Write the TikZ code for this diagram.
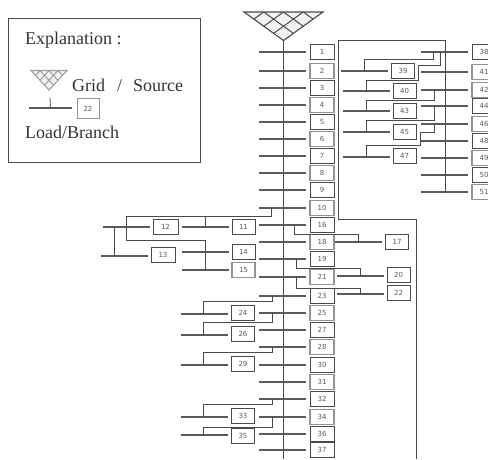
\documentclass[tikz,border=0pt]{standalone}
\usepackage{fontspec}
\setmainfont{Liberation Serif}
\newfontfamily\lblfont{DejaVu Sans}
\definecolor{ln}{HTML}{4A4A4A}
\definecolor{lb}{HTML}{5A5A5A}
\tikzset{
  wire/.style={draw=ln,line width=0.9pt,line join=miter},
  bus/.style={draw=none,fill=lb,inner sep=0pt,minimum height=1.96pt,minimum width=47pt},
  tag/.style={draw=ln,line width=0.9pt,fill=white,inner sep=0pt,minimum width=#1,minimum height=15pt,font=\lblfont\fontsize{7}{8}\selectfont,text=lb},
  tag/.default=23pt,
  tagg/.style={tag=#1,draw=gray!85,line width=1.1pt},
  tagg/.default=23pt,
  legendtext/.style={font=\fontsize{18}{20}\selectfont,text=black!80,inner sep=0pt,anchor=base west},
}
\newcommand\tapto[5]{\draw[wire] (#2,0 |- #1) -- (#2,#3) -- (#4,#3) -- (#4,0 |- #5);}
\newcommand\gridsym[5]{% x-left, x-right, y-top, y-apex, colour
  \begin{scope}
    \path[fill=black!5] (#1,#3) -- (#2,#3) -- ({(#1+#2)/2},#4) -- cycle;
    \clip (#1,#3) -- (#2,#3) -- ({(#1+#2)/2},#4) -- cycle;
    \pgfmathsetmacro\wd{(#2-#1)}
    \pgfmathsetmacro\hh{(#4-#3)}
    \foreach \f in {0.25,0.5,0.75}{
      \draw[draw=#5,line width=1pt] ({#1+\f*\wd},#3) -- ++({\wd/2},\hh);
      \draw[draw=#5,line width=1pt] ({#1+\f*\wd},#3) -- ++({-\wd/2},\hh);
    }
  \end{scope}
  \draw[draw=#5,line width=1.1pt,line join=miter] (#1,#3) -- (#2,#3) -- ({(#1+#2)/2},#4) -- cycle;
}
\begin{document}
\begin{tikzpicture}[x=1pt,y=-1pt]
\useasboundingbox (0,0) rectangle (488,459);
\clip (0,0) rectangle (488,459);

% legend
\node[draw=ln,line width=0.9pt,minimum width=192pt,minimum height=144pt,inner sep=0pt] (legend) at (104,90) {};
\node[legendtext] (legtitle) at (25,44) {Explanation :};
\gridsym{31}{67}{70.5}{90}{gray!75}
\node[legendtext] (leggrid) at (72,91) {Grid};
\node[legendtext] (legslash) at (117,91) {/};
\node[legendtext] (legsource) at (133,91) {Source};
\node[bus,minimum width=43pt] (legbar) at (50.5,108) {};
\coordinate (legtop) at (50,98);
\draw[draw=gray!80!black,line width=0.9pt] (legtop) -- (legbar);
\node[tagg=22pt,minimum height=20pt,line width=0.9pt] (legtag) at (88,108.5) {22};
\node[legendtext] (legload) at (25,138) {Load/Branch};

% grid and trunk
\gridsym{244}{323}{12}{40.5}{ln}
\coordinate (apex) at (283.5,40.5);
\coordinate (trunkend) at (283.5,459);
\draw[wire] (apex) -- (trunkend);

% main feeder loads
\foreach \n/\y/\s in {1/52/tag,2/71/tagg,3/88/tag,4/105/tagg,5/122/tag,6/139/tagg,7/156/tag,8/173/tagg,9/190/tag,10/208/tagg,16/225/tag,18/242/tagg,19/259/tag,21/277/tagg,23/296/tag,25/313/tagg,27/330/tag,28/347/tagg,30/365/tag,31/382/tagg,32/399/tag,34/417/tagg,36/434/tag,37/450/tag}{
  \node[bus] (b\n) at (282.5,\y) {};
  \node[\s=24pt] (t\n) at (322,\y) {\n};
}

% left branch
\foreach \n/\x/\y/\tx/\ty/\s in {11/205/227/243.5/227/tag,14/205/252/243.5/252/tag,15/205/270/243.5/270/tagg,
  24/204/314/243/312.5/tag,26/204/335/243/333.5/tag,29/204/365/243/364/tag,33/204/417/243/415.5/tag,35/204/435/243/436/tag}{
  \node[bus] (b\n) at (\x,\y) {};
  \node[\s=23pt] (t\n) at (\tx,\ty) {\n};
}
\node[bus] (b12) at (126,227) {};
\node[tag=25pt] (t12) at (165.5,227) {12};
\node[bus] (b13) at (124,256) {};
\node[tag=24pt] (t13) at (163,254.5) {13};

\draw[wire] (271,0 |- b10) -- (271,216) -- (126,216) -- (126,240) -- (205,240) -- (205,0 |- b15);
\draw[wire] (205,216) -- (b11);
\draw[wire] (114,0 |- b12) -- (114,0 |- b13);
\tapto{b23}{272}{301}{203}{b24}
\tapto{b25}{272}{322.5}{203}{b26}
\tapto{b28}{272}{352}{203}{b29}
\tapto{b32}{272}{404.5}{203}{b33}
\tapto{b34}{272}{427}{203}{b35}

% right of the trunk
\foreach \n/\y/\tx/\ty in {17/242/397/241.5,20/276/398.5/274.5,22/294/398.5/293}{
  \node[bus] (b\n) at (\ifnum\n=17 358\else 360\fi,\y) {};
  \node[tag=23pt] (t\n) at (\tx,\ty) {\n};
}
\tapto{b16}{294.5}{234}{358.5}{b17}
\tapto{b19}{296}{268}{360}{b20}
\tapto{b21}{296}{288}{360}{b22}

% second feeder
\foreach \n/\y/\s in {38/52/tag,41/72/tagg,42/90/tagg,44/106/tag,46/124/tagg,48/141/tag,49/158/tagg,50/175/tag,51/192/tagg}{
  \node[bus] (b\n) at (444.5,\y) {};
  \node[\s=24pt] (t\n) at (484,\y) {\n};
}
\foreach \n/\x/\y/\tx/\ty in {39/364.5/71/403/70.5,40/366.5/91/404.5/91,43/366.5/111/404.5/111,45/366.5/132/404.5/132,47/366.5/157/404.5/156}{
  \node[bus] (b\n) at (\x,\y) {};
  \node[tag=23pt] (t\n) at (\tx,\ty) {\n};
}
\tapto{b38}{433.3}{59}{364.7}{b39}
\draw[wire] (440,0 |- b38) -- (440,65) -- (418.7,65) -- (418.7,80) -- (366,80) -- (366,0 |- b40);
\tapto{b42}{434.7}{100}{366}{b43}
\tapto{b44}{434.7}{120}{366}{b45}
\draw[wire] (434.7,0 |- b46) -- (434.7,132) -- (420,132) -- (420,145) -- (366,145) -- (366,0 |- b47);

\coordinate (loopend) at (416,459);
\draw[wire] (445.7,0 |- b51) -- (445.7,40.5) -- (338.7,40.5) -- (338.7,219.7) -- (416,219.7) -- (loopend);
\end{tikzpicture}
\end{document}
